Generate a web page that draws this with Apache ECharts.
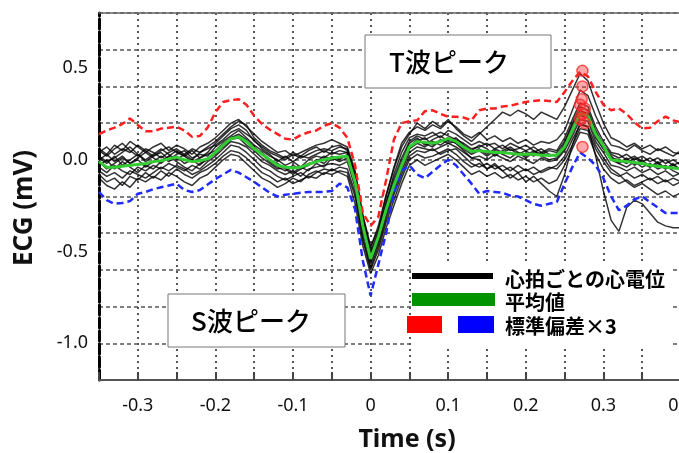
<!DOCTYPE html>
<html>
<head>
<meta charset="utf-8">
<script src="https://cdn.jsdelivr.net/npm/echarts@6/dist/echarts.min.js"></script>
<style>
html,body{margin:0;padding:0;background:#fff;}
#pic{width:679px;height:453px;}
</style>
</head>
<body>
<div id="pic"></div>
<script>
// time (s), 0.01 s steps
var times = [-0.35,-0.34,-0.33,-0.32,-0.31,-0.30,-0.29,-0.28,-0.27,-0.26,-0.25,-0.24,-0.23,-0.22,-0.21,-0.20,-0.19,-0.18,-0.17,-0.16,
  -0.15,-0.14,-0.13,-0.12,-0.11,-0.10,-0.09,-0.08,-0.07,-0.06,-0.05,-0.04,-0.03,-0.02,-0.01,0.00,0.01,0.02,0.03,0.04,
  0.05,0.06,0.07,0.08,0.09,0.10,0.11,0.12,0.13,0.14,0.15,0.16,0.17,0.18,0.19,0.20,0.21,0.22,0.23,0.24,
  0.25,0.26,0.27,0.28,0.29,0.30,0.31,0.32,0.33,0.34,0.35,0.36,0.37,0.38,0.39,0.40];

var meanEcg = [-0.01,-0.04,-0.04,-0.035,-0.03,-0.025,-0.02,-0.01,-0.005,0.005,0.015,0.0,-0.01,-0.005,0.005,0.04,0.08,0.115,0.125,0.10,
  0.06,0.03,0.0,-0.03,-0.04,-0.045,-0.04,-0.025,-0.01,0.0,0.01,0.015,0.02,-0.12,-0.36,-0.54,-0.42,-0.27,-0.14,-0.03,
  0.07,0.10,0.095,0.09,0.10,0.115,0.10,0.07,0.045,0.05,0.045,0.04,0.04,0.035,0.03,0.03,0.03,0.025,0.025,0.025,
  0.07,0.16,0.255,0.24,0.14,0.075,0.0,-0.005,-0.01,-0.015,-0.02,-0.03,-0.035,-0.04,-0.045,-0.05];

var upper3sd = [0.14,0.16,0.175,0.195,0.225,0.19,0.155,0.155,0.17,0.175,0.18,0.16,0.125,0.13,0.175,0.26,0.315,0.325,0.33,0.30,
  0.24,0.195,0.165,0.14,0.115,0.11,0.135,0.15,0.16,0.185,0.2,0.175,0.12,-0.03,-0.29,-0.36,-0.31,-0.11,0.11,0.2,
  0.21,0.215,0.265,0.27,0.25,0.235,0.235,0.23,0.215,0.27,0.28,0.28,0.29,0.295,0.305,0.315,0.32,0.325,0.32,0.315,
  0.37,0.43,0.48,0.455,0.37,0.30,0.27,0.28,0.25,0.205,0.17,0.175,0.21,0.235,0.215,0.205];

var lower3sd = [-0.175,-0.22,-0.24,-0.235,-0.225,-0.185,-0.175,-0.16,-0.15,-0.14,-0.13,-0.165,-0.175,-0.165,-0.135,-0.105,-0.08,-0.055,-0.07,-0.095,
  -0.12,-0.15,-0.18,-0.2,-0.19,-0.185,-0.18,-0.175,-0.175,-0.175,-0.17,-0.13,-0.15,-0.27,-0.55,-0.74,-0.57,-0.40,-0.18,-0.06,
  -0.03,-0.08,-0.10,-0.065,-0.03,0.0,-0.03,-0.08,-0.13,-0.185,-0.17,-0.175,-0.18,-0.195,-0.2,-0.22,-0.24,-0.25,-0.24,-0.23,
  -0.13,-0.04,0.04,0.01,-0.03,-0.1,-0.2,-0.275,-0.25,-0.215,-0.2,-0.23,-0.26,-0.29,-0.29,-0.29];

// individual beats
var beat01 = [0.06,0.03,0.08,0.05,0.10,0.07,0.04,0.07,0.09,0.05,0.08,0.06,0.03,0.07,0.09,0.12,0.16,0.20,0.22,0.18,
  0.14,0.10,0.07,0.04,0.05,0.02,0.04,0.06,0.08,0.09,0.11,0.09,0.07,-0.06,-0.30,-0.47,-0.38,-0.20,-0.04,0.09,
  0.15,0.18,0.16,0.19,0.17,0.21,0.18,0.14,0.12,0.15,0.11,0.13,0.10,0.12,0.09,0.11,0.08,0.10,0.09,0.11,
  0.16,0.27,0.38,0.35,0.24,0.15,0.08,0.07,0.05,0.08,0.05,0.03,0.06,0.04,0.02,0.05];
var beat02 = [-0.08,-0.12,-0.10,-0.14,-0.09,-0.11,-0.07,-0.10,-0.06,-0.09,-0.05,-0.08,-0.10,-0.07,-0.05,-0.02,0.02,0.05,0.04,0.01,
  -0.03,-0.07,-0.09,-0.12,-0.10,-0.13,-0.11,-0.09,-0.10,-0.07,-0.08,-0.06,-0.07,-0.20,-0.44,-0.60,-0.49,-0.34,-0.22,-0.10,
  0.00,0.03,0.01,0.02,0.04,0.06,0.03,-0.01,-0.04,-0.02,-0.05,-0.03,-0.06,-0.04,-0.07,-0.05,-0.08,-0.06,-0.04,-0.05,
  0.00,0.08,0.17,0.16,0.06,-0.01,-0.07,-0.09,-0.07,-0.10,-0.08,-0.11,-0.09,-0.12,-0.10,-0.12];
var beat03 = [0.01,-0.02,0.02,-0.03,0.00,0.03,-0.01,0.02,0.04,0.00,0.03,0.05,0.01,0.03,0.02,0.07,0.10,0.13,0.16,0.12,
  0.08,0.05,0.02,0.00,-0.03,-0.01,-0.04,0.00,0.02,0.01,0.04,0.03,0.04,-0.10,-0.35,-0.52,-0.40,-0.25,-0.12,-0.01,
  0.09,0.12,0.08,0.11,0.13,0.10,0.12,0.08,0.05,0.08,0.06,0.02,0.05,0.07,0.04,0.01,0.04,0.06,0.03,0.02,
  0.09,0.19,0.27,0.25,0.13,0.06,0.02,-0.02,0.01,-0.03,0.00,-0.04,-0.01,-0.05,-0.02,-0.06];
var beat04 = [-0.04,-0.07,-0.03,-0.06,-0.08,-0.04,-0.06,-0.03,-0.05,-0.02,-0.04,-0.06,-0.03,-0.05,-0.01,0.02,0.06,0.10,0.09,0.07,
  0.03,-0.01,-0.03,-0.06,-0.08,-0.06,-0.09,-0.05,-0.04,-0.03,-0.02,-0.03,-0.01,-0.15,-0.39,-0.57,-0.45,-0.30,-0.17,-0.06,
  0.04,0.07,0.06,0.05,0.07,0.09,0.07,0.04,0.01,0.02,0.00,0.03,0.01,-0.01,0.02,0.00,-0.02,0.01,-0.01,0.00,
  0.05,0.13,0.22,0.21,0.10,0.04,-0.03,-0.04,-0.06,-0.04,-0.07,-0.05,-0.08,-0.06,-0.09,-0.07];
var beat05 = [0.04,0.07,0.03,0.06,0.04,0.08,0.05,0.02,0.05,0.07,0.04,0.02,0.05,0.01,0.04,0.09,0.13,0.17,0.19,0.16,
  0.10,0.07,0.04,0.02,0.00,0.03,0.01,0.03,0.05,0.06,0.05,0.07,0.06,-0.08,-0.32,-0.50,-0.39,-0.23,-0.08,0.04,
  0.12,0.14,0.13,0.15,0.12,0.16,0.14,0.11,0.08,0.10,0.08,0.09,0.06,0.09,0.07,0.05,0.07,0.04,0.06,0.05,
  0.12,0.22,0.31,0.29,0.18,0.10,0.04,0.03,0.00,0.02,-0.01,0.01,-0.02,0.00,-0.03,-0.01];
var beat06 = [-0.10,-0.14,-0.16,-0.12,-0.15,-0.10,-0.12,-0.09,-0.11,-0.07,-0.09,-0.12,-0.14,-0.10,-0.08,-0.04,0.00,0.03,0.02,-0.02,
  -0.06,-0.10,-0.12,-0.15,-0.13,-0.10,-0.12,-0.08,-0.06,-0.08,-0.05,-0.07,-0.09,-0.24,-0.47,-0.62,-0.52,-0.37,-0.25,-0.13,
  -0.03,0.00,-0.03,-0.01,0.01,0.03,0.00,-0.04,-0.08,-0.06,-0.09,-0.07,-0.10,-0.08,-0.11,-0.09,-0.12,-0.10,-0.13,-0.11,
  -0.03,0.06,0.15,0.14,0.03,-0.05,-0.10,-0.13,-0.11,-0.14,-0.12,-0.10,-0.13,-0.11,-0.14,-0.12];
var beat07 = [0.00,0.03,-0.01,0.02,-0.02,0.01,0.04,0.01,-0.02,0.02,0.05,0.02,-0.01,0.01,0.03,0.05,0.09,0.12,0.14,0.11,
  0.07,0.03,-0.01,-0.04,-0.06,-0.03,-0.05,-0.02,-0.01,0.02,0.00,0.01,0.02,-0.13,-0.37,-0.55,-0.43,-0.28,-0.15,-0.03,
  0.06,0.10,0.12,0.08,0.10,0.12,0.09,0.05,0.01,0.00,-0.05,-0.02,-0.06,-0.10,-0.07,-0.12,-0.09,-0.13,-0.17,-0.20,
  -0.08,0.08,0.20,0.18,0.02,-0.17,-0.33,-0.39,-0.26,-0.22,-0.24,-0.29,-0.34,-0.36,-0.37,-0.37];
var beat08 = [0.05,0.02,0.06,0.09,0.05,0.02,0.06,0.04,0.01,0.04,0.06,0.03,0.00,0.04,0.07,0.10,0.14,0.18,0.21,0.19,
  0.12,0.08,0.05,0.03,0.01,0.04,0.02,0.05,0.07,0.04,0.07,0.08,0.05,-0.07,-0.31,-0.48,-0.36,-0.19,-0.05,0.07,
  0.14,0.20,0.17,0.21,0.18,0.22,0.17,0.13,0.10,0.14,0.18,0.22,0.26,0.24,0.27,0.25,0.22,0.26,0.24,0.22,
  0.29,0.38,0.47,0.43,0.31,0.20,0.12,0.10,0.07,0.09,0.06,0.08,0.05,0.07,0.04,0.03];
var beat09 = [-0.03,0.00,-0.05,-0.01,-0.04,-0.07,-0.03,-0.05,-0.01,0.02,-0.01,-0.04,-0.06,-0.02,0.00,0.04,0.07,0.11,0.12,0.08,
  0.05,0.01,-0.02,-0.05,-0.04,-0.07,-0.04,-0.06,-0.02,-0.04,0.01,-0.01,0.01,-0.14,-0.38,-0.56,-0.44,-0.28,-0.15,-0.04,
  0.06,0.09,0.07,0.10,0.08,0.11,0.09,0.06,0.03,0.05,0.02,0.05,0.03,0.01,0.04,0.02,0.05,0.02,0.00,0.01,
  0.06,0.15,0.24,0.23,0.12,0.06,0.00,-0.02,-0.04,-0.01,-0.04,-0.02,-0.05,-0.03,-0.06,-0.08];
var beat10 = [0.02,-0.01,0.01,0.04,0.07,0.03,0.00,0.03,0.06,0.03,0.00,0.03,0.06,0.04,0.06,0.08,0.11,0.15,0.17,0.14,
  0.11,0.06,0.03,-0.01,0.02,-0.01,0.02,0.01,0.03,0.05,0.03,0.05,0.04,-0.11,-0.34,-0.51,-0.41,-0.24,-0.10,0.01,
  0.10,0.13,0.11,0.13,0.15,0.13,0.11,0.09,0.06,0.07,0.09,0.06,0.08,0.05,0.06,0.08,0.05,0.03,0.05,0.04,
  0.10,0.20,0.29,0.27,0.16,0.08,0.03,0.01,0.03,0.00,0.02,-0.01,0.01,-0.02,0.00,-0.03];
var beat11 = [-0.06,-0.09,-0.07,-0.10,-0.06,-0.08,-0.10,-0.07,-0.04,-0.06,-0.03,-0.05,-0.08,-0.06,-0.03,0.00,0.04,0.08,0.07,0.04,
  0.00,-0.04,-0.06,-0.09,-0.11,-0.09,-0.07,-0.10,-0.07,-0.05,-0.06,-0.04,-0.05,-0.18,-0.42,-0.59,-0.47,-0.32,-0.19,-0.08,
  0.02,0.05,0.04,0.06,0.03,0.05,0.06,0.02,-0.02,-0.04,-0.02,-0.05,-0.03,-0.06,-0.03,-0.06,-0.04,-0.07,-0.05,-0.03,
  0.02,0.11,0.19,0.18,0.08,0.01,-0.05,-0.08,-0.12,-0.15,-0.13,-0.16,-0.19,-0.17,-0.20,-0.18];
var beat12 = [-0.01,-0.05,-0.02,0.01,-0.02,0.00,-0.04,-0.01,0.02,-0.01,0.02,-0.02,0.00,-0.03,0.01,0.03,0.08,0.12,0.13,0.10,
  0.06,0.04,0.00,-0.02,-0.05,-0.08,-0.05,-0.03,0.00,-0.02,0.02,0.00,0.03,-0.12,-0.36,-0.54,-0.42,-0.26,-0.13,-0.02,
  0.07,0.11,0.09,0.07,0.11,0.09,0.10,0.07,0.04,0.06,0.03,0.06,0.04,0.06,0.03,0.05,0.02,0.04,0.02,0.03,
  0.07,0.17,0.26,0.25,0.15,0.07,0.01,0.00,-0.02,0.01,-0.02,-0.04,-0.02,-0.05,-0.03,-0.05];
var beats = [beat01,beat02,beat03,beat04,beat05,beat06,beat07,beat08,beat09,beat10,beat11,beat12];

// T-peak markers [time, mV]
var peakMarks = [[0.273,0.485],[0.273,0.40],[0.272,0.33],[0.270,0.30],[0.276,0.28],[0.273,0.25],[0.270,0.22],[0.276,0.20],[0.273,0.07]];

var xLabels = [-0.3,-0.2,-0.1,0,0.1,0.2,0.3,0.4];
var yLabels = [0.5,0,-0.5,-1.0];

var legendTexts = ["心拍ごとの心電位","平均値","標準偏差×3"];

function pairs(arr){
  return times.map(function(t,i){return [t,arr[i]];});
}

var myChart = echarts.init(document.getElementById('pic'));

var series = [];
beats.forEach(function(b){
  series.push({
    type:"line", data:pairs(b), showSymbol:false, silent:true, z:1,
    lineStyle:{color:"rgba(0,0,0,0.8)",width:1.5}
  });
});
series.push({
  type:"line", data:pairs(upper3sd), showSymbol:false, silent:true, z:3,
  lineStyle:{color:"#ff1f1f",width:2.5,type:[7,4]}
});
series.push({
  type:"line", data:pairs(lower3sd), showSymbol:false, silent:true, z:3,
  lineStyle:{color:"#1f2bff",width:2.5,type:[7,4]}
});
series.push({
  type:"line", data:pairs(meanEcg), showSymbol:false, silent:true, z:4,
  lineStyle:{color:"#33cc33",width:3}
});
series.push({
  type:"scatter", data:peakMarks, symbolSize:11, silent:true, z:5,
  itemStyle:{color:"rgba(255,40,40,0.5)",borderColor:"#ff2a2a",borderWidth:1.5}
});

var font = "'Noto Sans','Noto Sans CJK JP',sans-serif";
var jpFont = "'Noto Sans CJK JP',sans-serif";

myChart.setOption({
  animation:false,
  backgroundColor:"#fff",
  grid:{left:99,top:13,width:582,height:367,outerBoundsMode:"none",containLabel:false},
  xAxis:[{
    type:"value", min:-0.35, max:0.4, interval:0.05,
    axisLine:{onZero:false,lineStyle:{color:"#555",width:2}},
    axisTick:{inside:true,length:8,lineStyle:{color:"#444",width:2}},
    axisLabel:{customValues:xLabels,margin:17,color:"#111",fontSize:18,fontFamily:font,
      formatter:function(v){return Math.abs(v)<1e-9?"0":v.toFixed(1);}},
    splitLine:{show:true,lineStyle:{color:"#555",width:2,type:[2,4]}}
  },{
    type:"value", position:"top", min:-0.35, max:0.4,
    axisLine:{show:true,onZero:false,lineStyle:{color:"#666",width:1.5}},
    axisTick:{show:false}, axisLabel:{show:false}, splitLine:{show:false}
  }],
  yAxis:{
    type:"value", min:-1.2, max:0.8, interval:0.2,
    axisLine:{show:true,onZero:false,lineStyle:{color:"#000",width:3,type:[10,3]}},
    axisTick:{show:false},
    axisLabel:{customValues:yLabels,margin:11,color:"#111",fontSize:18,fontFamily:font,
      formatter:function(v){return v.toFixed(1);}},
    splitLine:{show:true,lineStyle:{color:"#555",width:1.5,type:[4,3]}}
  },
  series:series,
  graphic:[
    {type:"text",x:407,y:440,z:100,style:{text:"Time (s)",font:"bold 25px "+font,fill:"#111",align:"center",verticalAlign:"middle"}},
    {type:"text",x:25,y:208,rotation:Math.PI/2,z:100,
      style:{text:"ECG (mV)",font:"bold 26px "+font,fill:"#111",align:"center",verticalAlign:"middle"}},
    {type:"rect",shape:{x:365,y:35,width:186,height:53},z:100,style:{fill:"#fff",stroke:"#777",lineWidth:1}},
    {type:"text",x:449,y:62,z:101,style:{text:"T波ピーク",font:"500 26px "+jpFont,fill:"#000",align:"center",verticalAlign:"middle"}},
    {type:"rect",shape:{x:168,y:294,width:177,height:53},z:100,style:{fill:"#fff",stroke:"#777",lineWidth:1}},
    {type:"text",x:251,y:321,z:101,style:{text:"S波ピーク",font:"500 26px "+jpFont,fill:"#000",align:"center",verticalAlign:"middle"}},
    {type:"rect",shape:{x:411,y:264,width:260,height:83},z:100,style:{fill:"#fff"}},
    {type:"rect",shape:{x:412,y:273,width:81,height:6},z:101,style:{fill:"#000"}},
    {type:"rect",shape:{x:412,y:293,width:83,height:13},z:101,style:{fill:"#009400"}},
    {type:"rect",shape:{x:407,y:316,width:35,height:17},z:101,style:{fill:"#ff0000"}},
    {type:"rect",shape:{x:458,y:316,width:36,height:17},z:101,style:{fill:"#0000ff"}},
    {type:"text",x:505,y:279,z:102,style:{text:legendTexts[0],font:"bold 20px "+jpFont,fill:"#000",verticalAlign:"middle"}},
    {type:"text",x:505,y:302,z:102,style:{text:legendTexts[1],font:"bold 20px "+jpFont,fill:"#000",verticalAlign:"middle"}},
    {type:"text",x:505,y:326,z:102,style:{text:legendTexts[2],font:"bold 20px "+jpFont,fill:"#000",verticalAlign:"middle"}}
  ]
});
</script>
</body>
</html>
